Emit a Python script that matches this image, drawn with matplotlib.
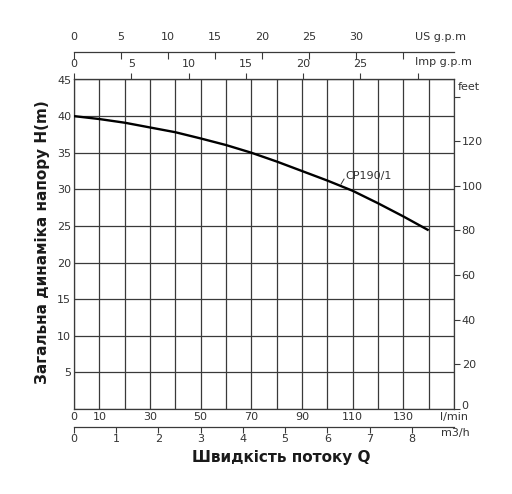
import matplotlib
matplotlib.use("Agg")
import matplotlib.pyplot as plt
from matplotlib.transforms import ScaledTranslation

# curve CP190/1
flow_lmin = [0, 10, 20, 30, 40, 50, 60, 70, 80, 90, 100, 110, 120, 130, 140]
head_m = [40.0, 39.6, 39.1, 38.45, 37.8, 36.95, 36.05, 35.0, 33.8, 32.5,
          31.2, 29.8, 28.1, 26.3, 24.4]
curve_name = "CP190/1"

# axis scales
lmin_ticks = list(range(0, 151, 10))
lmin_labels = ["0", "10", "", "30", "", "50", "", "70", "", "90", "", "110",
               "", "130", "", "l/min"]
m3h_ticks = list(range(0, 9))
us_ticks = list(range(0, 36, 5))
us_labels = ["0", "5", "10", "15", "20", "25", "30", ""]
imp_ticks = list(range(0, 31, 5))
imp_labels = ["0", "5", "10", "15", "20", "25", ""]
head_ticks = list(range(0, 46, 5))
head_labels = [""] + [str(v) for v in head_ticks[1:]]
feet_ticks = list(range(0, 141, 20))
feet_labels = ["0", "20", "40", "60", "80", "100", "120", ""]

LMIN_PER_M3H = 1000 / 60
LMIN_PER_USGPM = 3.71
LMIN_PER_IMPGPM = 4.52
FT_PER_M = 3.2808

W, H = 512, 494
fig = plt.figure(figsize=(W / 100, H / 100), dpi=100)
plt.rcParams['font.family'] = ['DejaVu Sans']

left, right, top, bottom = 74, 454, 79.5, 409
ax = fig.add_axes([left / W, (H - bottom) / H, (right - left) / W, (bottom - top) / H])
txt = "#333333"
gc = "#3a3a3a"
fs = 8

ax.plot(flow_lmin, head_m, color="black", lw=1.7, zorder=3, solid_capstyle="butt")
ax.set_xlim(0, 150)
ax.set_ylim(0, 45)
ax.set_xticks(lmin_ticks)
ax.set_xticklabels(lmin_labels)
ax.set_yticks(head_ticks)
ax.set_yticklabels(head_labels)
ax.grid(True, color=gc, lw=0.9)
ax.tick_params(axis="x", length=0, pad=2.5, labelsize=fs, labelcolor=txt)
ax.tick_params(axis="y", length=0, pad=2, labelsize=fs, labelcolor=txt)
for s in ax.spines.values():
    s.set_color(gc)
    s.set_linewidth(0.9)

# label of the curve, with its small leader
ax.plot([105.4, 106.6], [30.7, 31.4], color=txt, lw=0.7, zorder=3)
ax.text(107, 31.8, curve_name, fontsize=fs, color=txt, va="center", ha="left")

# feet on the right
axr = ax.twinx()
axr.set_ylim(0, 45 * FT_PER_M)
axr.set_yticks(feet_ticks)
axr.set_yticklabels(feet_labels)
axr.tick_params(axis="y", length=4, width=0.8, color=gc, pad=1.5,
                labelsize=fs, labelcolor=txt)
for s in axr.spines.values():
    s.set_visible(False)
zero_lab = axr.get_yticklabels()[0]
zero_lab.set_transform(zero_lab.get_transform()
                       + ScaledTranslation(0, 4 / 100, fig.dpi_scale_trans))
fig.text(458 / W, 1 - 87 / H, "feet", fontsize=fs, color=txt, va="center", ha="left")

# m3/h below
ax_m3 = ax.secondary_xaxis(-(427.3 - bottom) / (bottom - top),
                           functions=(lambda q: q / LMIN_PER_M3H, lambda q: q * LMIN_PER_M3H))
ax_m3.set_xticks(m3h_ticks)
ax_m3.tick_params(axis="x", direction="out", length=4, width=0.8, color=gc, pad=1,
                  labelsize=fs, labelcolor=txt)
ax_m3.spines["bottom"].set_color(gc)
ax_m3.spines["bottom"].set_linewidth(0.9)
fig.text(455 / W, 1 - 433 / H, "m3/h", fontsize=fs, color=txt, va="center", ha="center")

# Imp g.p.m on top
ax_imp = ax.secondary_xaxis("top", functions=(lambda q: q / LMIN_PER_IMPGPM,
                                              lambda q: q * LMIN_PER_IMPGPM))
ax_imp.set_xticks(imp_ticks)
ax_imp.set_xticklabels(imp_labels)
ax_imp.tick_params(axis="x", direction="out", length=4, width=0.8, color=gc, pad=3.5,
                   labelsize=fs, labelcolor=txt)
ax_imp.spines["top"].set_color(gc)
fig.text(415 / W, 1 - 62 / H, "Imp g.p.m", fontsize=fs, color=txt, va="center", ha="left")

# US g.p.m above
ax_us = ax.secondary_xaxis((bottom - 51.7) / (bottom - top),
                           functions=(lambda q: q / LMIN_PER_USGPM, lambda q: q * LMIN_PER_USGPM))
ax_us.set_xticks(us_ticks)
ax_us.set_xticklabels(us_labels)
ax_us.tick_params(axis="x", direction="in", length=5, width=0.8, color=gc, pad=7,
                  labelsize=fs, labelcolor=txt)
ax_us.spines["top"].set_color(gc)
ax_us.spines["top"].set_linewidth(0.9)
fig.text(415 / W, 1 - 37 / H, "US g.p.m", fontsize=fs, color=txt, va="center", ha="left")

# axis titles
fig.text(281 / W, 1 - 457 / H, "Швидкість потоку Q", fontsize=11, fontweight="bold",
         color="#1a1a1a", ha="center", va="center")
fig.text(43 / W, 1 - 242 / H, "Загальна динаміка напору H(m)", fontsize=11,
         fontweight="bold", color="#1a1a1a", ha="center", va="center", rotation=90)

fig.savefig("out.png", dpi=100)
